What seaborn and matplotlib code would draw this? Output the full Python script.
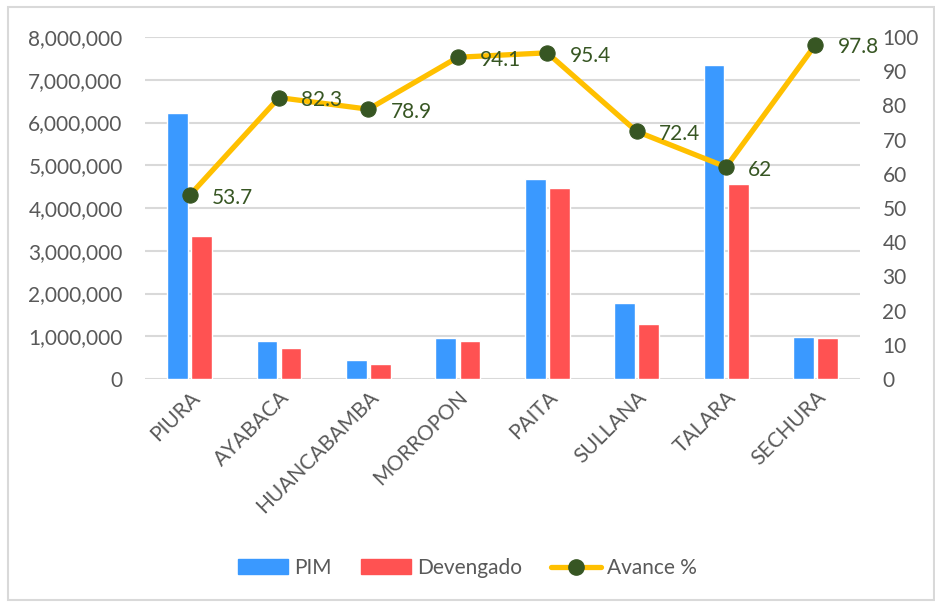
import numpy as np
import pandas as pd
import seaborn as sns
import matplotlib.pyplot as plt
from matplotlib.patches import Rectangle
from matplotlib.lines import Line2D
from matplotlib.ticker import FuncFormatter

######################################
### Data

provincias = ['PIURA', 'AYABACA', 'HUANCABAMBA', 'MORROPON', 'PAITA', 'SULLANA', 'TALARA', 'SECHURA']
pim = [6230000, 880000, 455000, 950000, 4690000, 1780000, 7350000, 990000]
devengado = [3340000, 730000, 360000, 890000, 4460000, 1290000, 4570000, 970000]
avance = [53.7, 82.3, 78.9, 94.1, 95.4, 72.4, 62, 97.8]

col_pim = '#3A99FF'
col_dev = '#FF5252'
col_line = '#FFC000'
col_mark = '#375623'
col_txt = '#595959'
col_grid = '#D9D9D9'

#####################################
### Plot

sns.set_style('white')
plt.rcParams['font.family'] = ['Lato', 'DejaVu Sans']

df = pd.DataFrame({'Provincia': provincias, 'PIM': pim, 'Devengado': devengado})
df_long = df.melt(id_vars='Provincia', var_name='Serie', value_name='Monto')

fig = plt.figure(figsize=(9.35, 6.03), dpi=100)
ax = fig.add_axes([0.155, 0.3715, 0.765, 0.567])

sns.barplot(x='Provincia', y='Monto', hue='Serie', data=df_long, order=provincias,
            hue_order=['PIM', 'Devengado'], palette=[col_pim, col_dev],
            width=0.54, gap=0.14, ax=ax, legend=False, saturation=1)

ax.set_ylim(0, 8000000)
ax.set_yticks(np.arange(0, 8000001, 1000000))
ax.yaxis.set_major_formatter(FuncFormatter(lambda v, p: f'{int(v):,}'))
ax.set_xlim(-0.5, len(provincias) - 0.5)
ax.grid(axis='y', color=col_grid, linewidth=1.5)
ax.set_axisbelow(True)
for s in ax.spines.values():
    s.set_visible(False)
ax.set_xlabel('')
ax.set_ylabel('')
ax.tick_params(axis='y', length=0, pad=16, labelsize=15, labelcolor=col_txt)
ax.tick_params(axis='x', length=0, pad=6, labelsize=15, labelcolor=col_txt)
plt.setp(ax.get_xticklabels(), rotation=45, ha='right', rotation_mode='anchor')

ax2 = ax.twinx()
xpos = np.arange(len(provincias))
sns.lineplot(x=xpos, y=avance, ax=ax2, color=col_line, linewidth=3.8, marker='o',
             markersize=11, markerfacecolor=col_mark, markeredgecolor=col_mark)
ax2.set_ylim(0, 100)
ax2.set_yticks(np.arange(0, 101, 10))
for s in ax2.spines.values():
    s.set_visible(False)
ax2.tick_params(axis='y', length=0, pad=16, labelsize=15, labelcolor=col_txt)
ax2.set_xlim(-0.5, len(provincias) - 0.5)

for xi, v in zip(xpos, avance):
    ax2.annotate(f'{v:g}', (xi, v), xytext=(16, -2), textcoords='offset points',
                 ha='left', va='center', fontsize=15, color=col_mark)

handles = [Rectangle((0, 0), 1, 1, color=col_pim),
           Rectangle((0, 0), 1, 1, color=col_dev),
           Line2D([0], [0], color=col_line, linewidth=3.8, marker='o', markersize=11,
                  markerfacecolor=col_mark, markeredgecolor=col_mark)]
fig.legend(handles, ['PIM', 'Devengado', 'Avance %'], loc='center', bbox_to_anchor=(0.5, 0.058),
           ncol=3, frameon=False, fontsize=15, labelcolor=col_txt, handlelength=2.4,
           handleheight=0.75, columnspacing=1.4, handletextpad=0.3)

fig.patches.append(Rectangle((0.009, 0.005), 0.99, 0.983, transform=fig.transFigure,
                             fill=False, edgecolor=col_grid, linewidth=1.5))

fig.savefig('out.png', dpi=100)
